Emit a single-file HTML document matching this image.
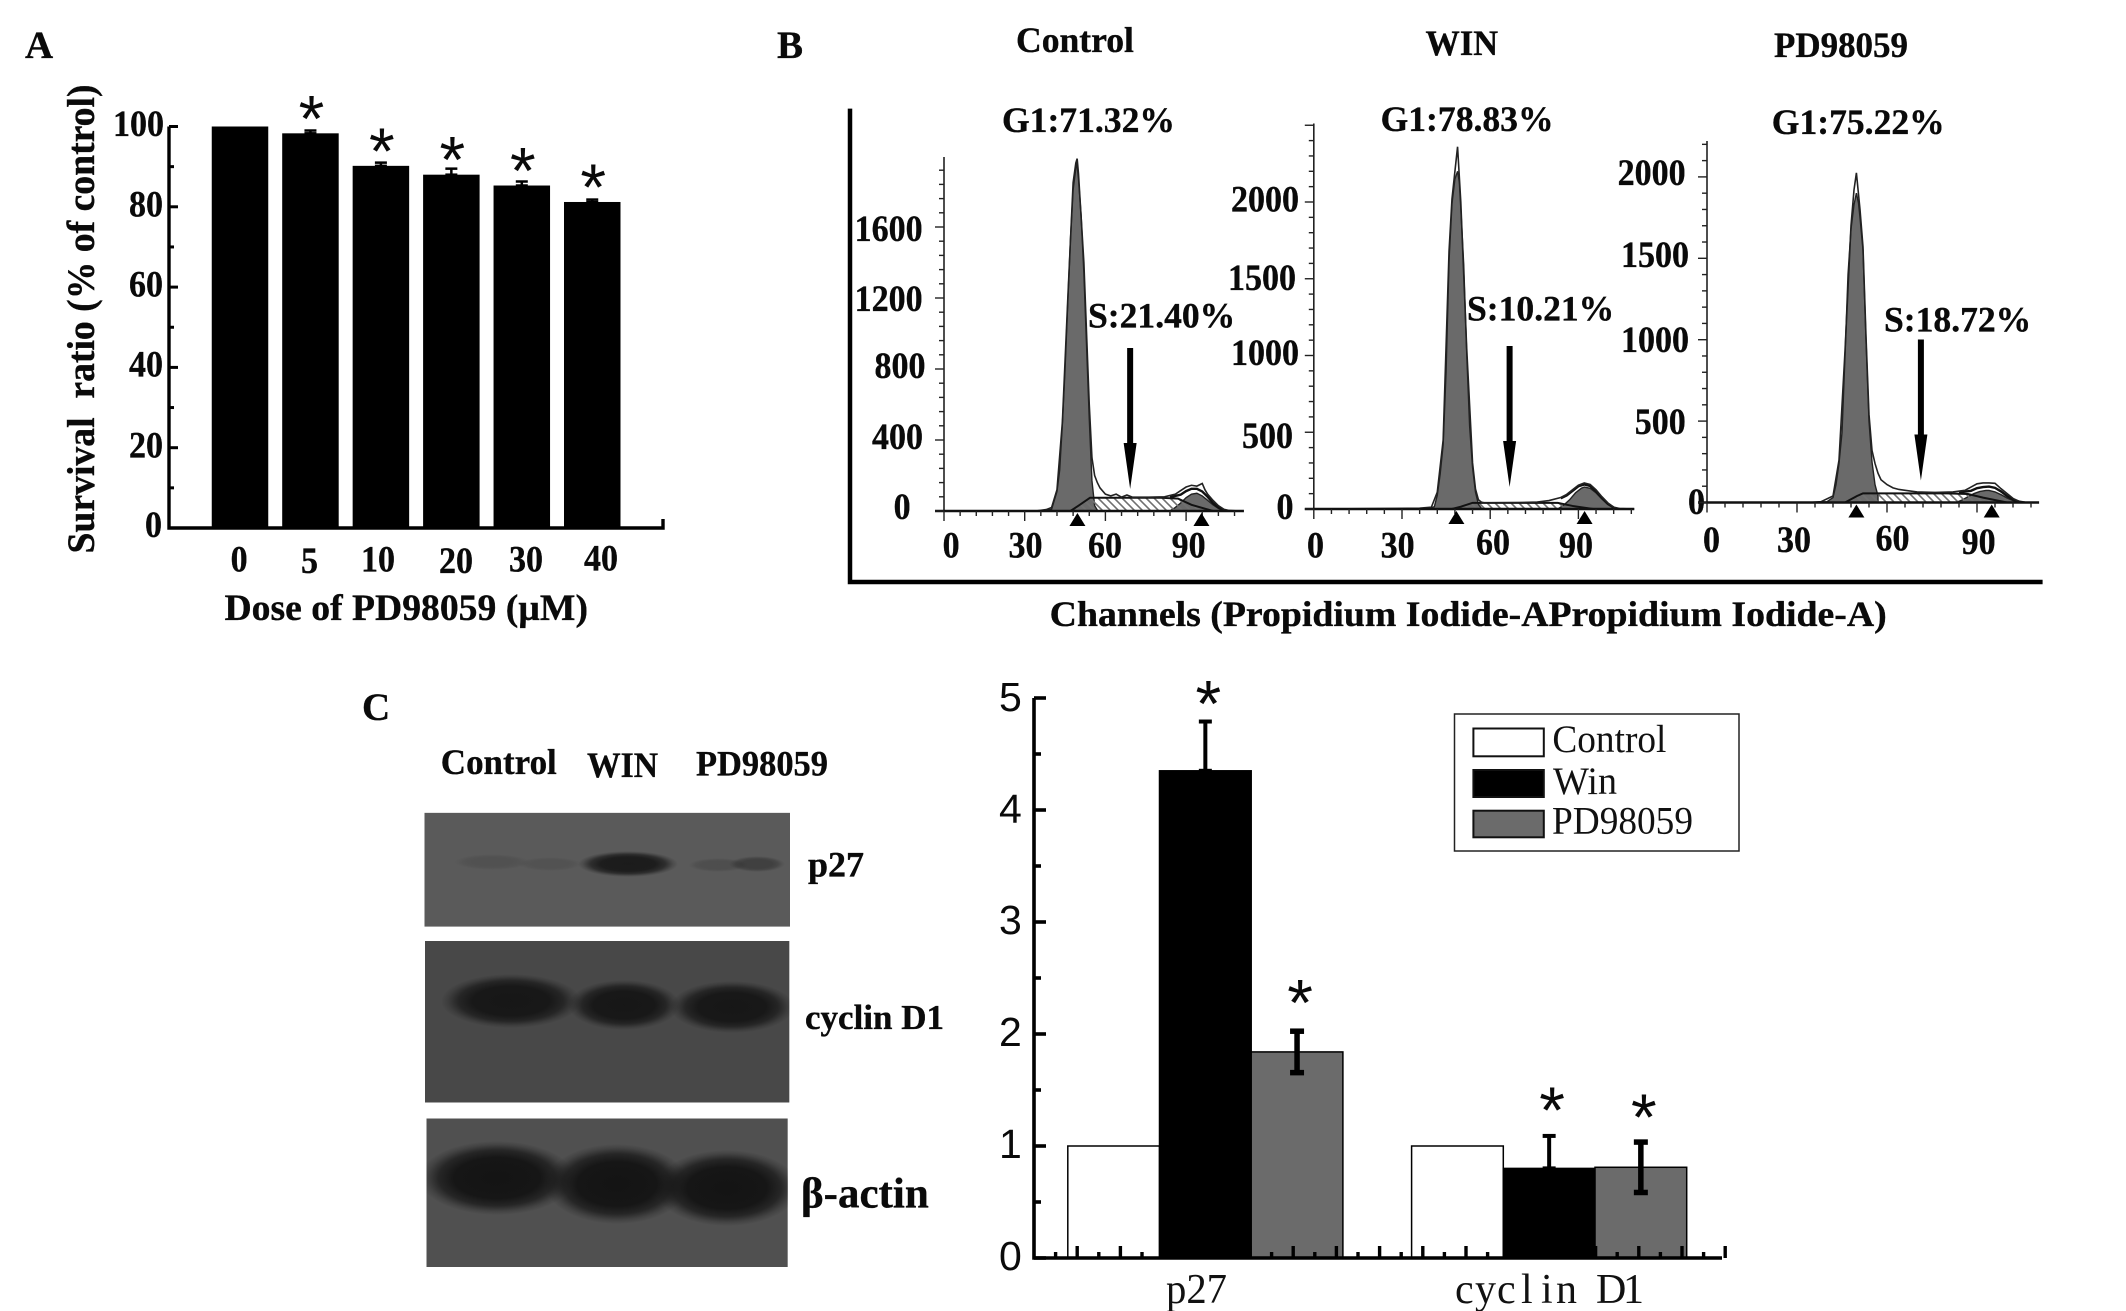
<!DOCTYPE html>
<html lang="en">
<head>
<meta charset="utf-8">
<title>PD98059 survival, cell cycle and western blot figure</title>
<style>
html,body{margin:0;padding:0;background:#fff;}
svg{display:block;font-family:"Liberation Serif",serif;}
.b{font-weight:700;fill:#0a0a0a;stroke:#0a0a0a;stroke-width:.35;}
.t34{font-size:37px;}
.t35{font-size:35.6px;}
.pl{font-size:39px;}
.sans{font-family:"Liberation Sans",sans-serif;font-size:41px;fill:#0a0a0a;}
.leg{font-size:39px;fill:#111;}
.mono{font-family:"Liberation Serif",serif;font-size:42px;fill:#111;}
</style>
</head>
<body>
<svg id="figure" xmlns="http://www.w3.org/2000/svg" width="2126" height="1311" viewBox="0 0 2126 1311">
<defs>
<pattern id="hatch" patternUnits="userSpaceOnUse" width="8" height="8">
<rect width="8" height="8" fill="none"/>
<path d="M-2,-2 L10,10 M-2,6 L2,10 M6,-2 L10,2" stroke="#707070" stroke-width="1.6"/>
</pattern>
<radialGradient id="band">
<stop offset="0" stop-color="#141414" stop-opacity="1"/>
<stop offset="0.55" stop-color="#141414" stop-opacity="0.97"/>
<stop offset="0.75" stop-color="#141414" stop-opacity="0.7"/>
<stop offset="0.9" stop-color="#141414" stop-opacity="0.22"/>
<stop offset="1" stop-color="#141414" stop-opacity="0"/>
</radialGradient>
<clipPath id="clip-p27"><rect x="424.5" y="812.7" width="365.5" height="114"/></clipPath>
<clipPath id="clip-cyc"><rect x="425" y="941" width="364.4" height="161.5"/></clipPath>
<clipPath id="clip-act"><rect x="426.5" y="1118.5" width="361.3" height="148.5"/></clipPath>
</defs>
<rect width="2126" height="1311" fill="#fff"/>

<text class="b pl" x="25" y="58">A</text>
<text class="b pl" x="777" y="58">B</text>
<text class="b pl" x="362" y="720">C</text>

<g id="panel-a">
<text class="b" font-size="39" transform="translate(94,553.5) rotate(-90)" textLength="469" lengthAdjust="spacingAndGlyphs" style="white-space:pre">Survival  ratio (% of control)</text>
<text class="b t34 tick" x="113" y="136">100</text>
<text class="b t34 tick" x="129" y="216.5">80</text>
<text class="b t34 tick" x="129" y="296.6">60</text>
<text class="b t34 tick" x="129" y="376.5">40</text>
<text class="b t34 tick" x="129" y="457.6">20</text>
<text class="b t34 tick" x="145" y="537">0</text>
<text class="b t34 tick" x="230.6" y="571.6">0</text>
<text class="b t34 tick" x="301" y="573">5</text>
<text class="b t34 tick" x="361" y="571.6">10</text>
<text class="b t34 tick" x="439" y="573">20</text>
<text class="b t34 tick" x="509" y="571.6">30</text>
<text class="b t34 tick" x="584" y="570.5">40</text>
<text class="b t34" x="224.5" y="620" textLength="363.5" lengthAdjust="spacingAndGlyphs">Dose of PD98059 (µM)</text>
</g>

<g id="panel-b">
<path d="M850,108.6 V582 H2042.6" fill="none" stroke="#000" stroke-width="4.5"/>
<text class="b t35" x="1016" y="52">Control</text>
<text class="b t35" x="1425.5" y="55" textLength="72.5" lengthAdjust="spacingAndGlyphs">WIN</text>
<text class="b t35" x="1774" y="57" textLength="134" lengthAdjust="spacingAndGlyphs">PD98059</text>
<text class="b t35" x="1002" y="132">G1:71.32%</text>
<text class="b t35" x="1380.6" y="131">G1:78.83%</text>
<text class="b t35" x="1771.8" y="134">G1:75.22%</text>
<text class="b t35" x="1088" y="327.5">S:21.40%</text>
<text class="b t35" x="1467" y="320.5">S:10.21%</text>
<text class="b t35" x="1884" y="331.7">S:18.72%</text>

<text class="b t34 tick" x="854.6" y="241">1600</text>
<text class="b t34 tick" x="854.6" y="311">1200</text>
<text class="b t34 tick" x="874.5" y="378">800</text>
<text class="b t34 tick" x="872" y="449">400</text>
<text class="b t34 tick" x="893.6" y="519">0</text>
<text class="b t34 tick" x="942.6" y="557.6">0</text>
<text class="b t34 tick" x="1008.5" y="557.6">30</text>
<text class="b t34 tick" x="1088" y="557.6">60</text>
<text class="b t34 tick" x="1171.6" y="557.6">90</text>

<text class="b t34 tick" x="1231" y="211.5">2000</text>
<text class="b t34 tick" x="1228" y="290">1500</text>
<text class="b t34 tick" x="1231" y="365">1000</text>
<text class="b t34 tick" x="1242" y="448">500</text>
<text class="b t34 tick" x="1276.5" y="519">0</text>
<text class="b t34 tick" x="1307" y="557.6">0</text>
<text class="b t34 tick" x="1380.6" y="557.6">30</text>
<text class="b t34 tick" x="1476" y="554.7">60</text>
<text class="b t34 tick" x="1559" y="557.6">90</text>

<text class="b t34 tick" x="1617.6" y="185">2000</text>
<text class="b t34 tick" x="1621" y="267">1500</text>
<text class="b t34 tick" x="1621" y="352">1000</text>
<text class="b t34 tick" x="1634.7" y="434">500</text>
<text class="b t34 tick" x="1688" y="514">0</text>
<text class="b t34 tick" x="1703" y="552">0</text>
<text class="b t34 tick" x="1777" y="552">30</text>
<text class="b t34 tick" x="1875.5" y="550.6">60</text>
<text class="b t34 tick" x="1961.6" y="554">90</text>

<text class="b t35" x="1049.7" y="626" textLength="837" lengthAdjust="spacingAndGlyphs">Channels (Propidium Iodide-APropidium Iodide-A)</text>
</g>

<g id="panel-c-blots">
<text class="b t35" x="440.8" y="774" textLength="116" lengthAdjust="spacingAndGlyphs">Control</text>
<text class="b t35" x="587" y="777" textLength="71" lengthAdjust="spacingAndGlyphs">WIN</text>
<text class="b t35" x="696" y="775.5" textLength="132" lengthAdjust="spacingAndGlyphs">PD98059</text>

<g clip-path="url(#clip-p27)">
<rect x="424.5" y="812.7" width="365.5" height="114" fill="#5a5a5a"/>
<ellipse cx="492" cy="862" rx="38" ry="8" fill="url(#band)" opacity="0.13"/>
<ellipse cx="550" cy="864" rx="32" ry="7" fill="url(#band)" opacity="0.12"/>
<ellipse cx="628" cy="864" rx="50" ry="13" fill="url(#band)" opacity="0.9"/>
<ellipse cx="718" cy="865" rx="30" ry="7" fill="url(#band)" opacity="0.18"/>
<ellipse cx="757" cy="864" rx="28" ry="8" fill="url(#band)" opacity="0.38"/>
</g>
<g clip-path="url(#clip-cyc)">
<rect x="425" y="941" width="364.4" height="161.5" fill="#484848"/>
<ellipse cx="511" cy="1001" rx="70" ry="27" fill="url(#band)" opacity="0.95"/>
<ellipse cx="624" cy="1005" rx="56" ry="25" fill="url(#band)" opacity="0.95"/>
<ellipse cx="732" cy="1007" rx="62" ry="26" fill="url(#band)" opacity="0.95"/>
</g>
<g clip-path="url(#clip-act)">
<rect x="426.5" y="1118.5" width="361.3" height="148.5" fill="#505050"/>
<ellipse cx="497" cy="1178" rx="78" ry="37" fill="url(#band)"/>
<ellipse cx="617" cy="1184" rx="72" ry="40" fill="url(#band)"/>
<ellipse cx="727" cy="1188" rx="72" ry="38" fill="url(#band)"/>
</g>
<text class="b" font-size="36" x="808" y="876.5">p27</text>
<text class="b" font-size="35" x="805" y="1029">cyclin D1</text>
<text class="b" font-size="43" x="801" y="1207.6">β-actin</text>
</g>

<g id="panel-c-chart">
<text class="sans" x="999" y="711">5</text>
<text class="sans" x="999" y="823">4</text>
<text class="sans" x="999" y="934">3</text>
<text class="sans" x="999" y="1046">2</text>
<text class="sans" x="999" y="1158">1</text>
<text class="sans" x="999" y="1270">0</text>
<text class="mono" x="1166" y="1303" textLength="61" lengthAdjust="spacingAndGlyphs">p27</text>
<text class="mono" x="1455 1475 1497 1521 1541 1556 1590 1596 1623" y="1303">cyclin D1</text>
<g>
<rect x="1454.5" y="714" width="284.5" height="137" fill="#fff" stroke="#222" stroke-width="1.5"/>
<rect x="1473.4" y="728.5" width="70.4" height="27.8" fill="#fff" stroke="#111" stroke-width="2"/>
<rect x="1473.4" y="770" width="70.4" height="27" fill="#000" stroke="#111" stroke-width="2"/>
<rect x="1473.4" y="810.7" width="70.4" height="26.6" fill="#6b6b6b" stroke="#111" stroke-width="2"/>
<text class="leg" x="1552.4" y="752" textLength="114" lengthAdjust="spacingAndGlyphs">Control</text>
<text class="leg" x="1553" y="794" textLength="64" lengthAdjust="spacingAndGlyphs">Win</text>
<text class="leg" x="1552" y="833.6" textLength="141" lengthAdjust="spacingAndGlyphs">PD98059</text>
</g>
</g>
</svg>

<script>
/* Panel A data */
const survivalValues = [100, 98.3, 90.2, 88, 85.3, 81.2];
const survivalErrors = [0, 0.7, 0.8, 1.5, 1, 0.6];
const survivalSignificant = [false, true, true, true, true, true];

/* Panel C chart data */
const expressionControl = [1, 1];
const expressionWin = [4.35, 0.80];
const expressionPd = [1.84, 0.81];
const errorWin = [0.44, 0.29];
const errorPd = [0.185, 0.225];
const starLevelWin = [5.04, 1.41];
const starLevelPd = [2.37, 1.35];

/* Panel B data: channels and counts */
const controlG1Ch = [38,40,42,43,44,45,46,47,48,49,49.4,50,51,52,53,54,55,56,57];
const controlG1 = [5,10,110,230,490,800,1170,1530,1810,1930,1960,1870,1660,1340,930,520,170,30,5];
const controlSCh = [47,50,54.3,60,70,80,87,92,100];
const controlS = [0,30,75,75,75,75,70,35,0];
const controlG2Ch = [84,86,88,90,92,94,96,98,100,102,104];
const controlG2 = [0,20,45,75,95,100,85,60,35,15,0];
const controlTotalCh = [0,34,38,40,42,44,46,48,49,49.5,50,52,54,55,56,57,58,60,62,64,66,68,70,76,82,86,88,90,92,94,96,97,98,100,102,104,106,110];
const controlTotal = [0,0,8,20,120,500,1190,1850,1960,1985,1900,1400,600,300,200,160,130,95,85,95,78,90,78,78,80,95,115,135,145,140,155,120,95,60,30,10,3,0];
const controlFitCh = [84,88,90,92,94,96,98,100,102,104];
const controlFit = [78,92,112,125,125,110,80,45,20,5];
const controlMarkers = [49.6,95.7];
const controlArrow = 69.2;

const winG1Ch = [38,40,41,42,43,44,45,46,47,48,48.9,49.5,50,51,52,53,54,55,56,57];
const winG1 = [3,8,15,90,230,420,900,1620,1990,2150,2200,2130,1960,1590,1020,540,270,110,30,5];
const winSCh = [47,50,54,60,70,80,83,88,95];
const winS = [0,15,40,40,40,40,40,20,0];
const winG2Ch = [83,85,87,89,91,92,94,96,98,100,102,103];
const winG2 = [0,25,60,105,135,143,135,105,65,30,8,0];
const winTotalCh = [0,36,40,42,44,46,47,48,48.9,50,52,54,55,56,57,58,60,70,76,80,84,86,88,90,92,94,96,98,100,102,104,109];
const winTotal = [0,5,12,110,450,1680,2020,2200,2360,2000,1050,300,130,60,45,40,40,42,45,55,75,95,125,155,170,160,125,80,40,12,3,0];
const winFitCh = [84,86,88,90,92,94,96,98,100,102];
const winFit = [70,88,118,148,160,150,115,72,34,10];
const winMarkers = [48.5,92.1];
const winArrow = 66.6;

const pdG1Ch = [38,40,42,43,44,45,46,47,48,49,49.8,50.5,51,52,53,54,55,56,57];
const pdG1 = [3,5,30,110,240,430,900,1400,1680,1830,1900,1840,1750,1550,1000,500,250,110,40];
const pdSCh = [46,50,52,60,70,80,87,92,100];
const pdS = [0,40,56,56,56,56,52,30,0];
const pdG2Ch = [83,85,87,89,91,93,94,96,98,100,102,104.5];
const pdG2 = [0,15,35,55,68,74,74,65,48,28,12,0];
const pdTotalCh = [0,34,38,42,44,46,48,49,49.8,51,52,53,54,55,56,57,58,60,62,64,70,76,82,86,88,90,92,94,96,98,100,102,104,106,110];
const pdTotal = [0,0,5,40,260,930,1700,1920,2025,1800,1570,1020,540,320,240,180,140,110,90,80,65,62,65,75,95,115,120,120,118,85,55,25,8,2,0];
const pdFitCh = [84,88,90,92,94,96,98,100,102,104];
const pdFit = [62,72,88,95,98,90,68,40,18,5];
const pdMarkers = [49.8,94.9];
const pdArrow = 71.3;

const NS = 'http://www.w3.org/2000/svg';
const figure = document.getElementById('figure');

document.querySelectorAll('.tick').forEach(t => {
  t.setAttribute('textLength', String(t.textContent.length * 17));
  t.setAttribute('lengthAdjust', 'spacingAndGlyphs');
});

function shape(parent, tag, attrs) {
  const el = document.createElementNS(NS, tag);
  for (const k in attrs) el.setAttribute(k, attrs[k]);
  parent.appendChild(el);
  return el;
}

function star(parent, cx, cy) {
  const el = shape(parent, 'text', {x: cx, y: cy + 33, 'text-anchor': 'middle', 'font-size': 66, fill: '#0a0a0a', style: 'font-family:"Liberation Sans",sans-serif'});
  el.textContent = '*';
  
  
  return el;
}

function errorBar(parent, x, yTop, yBottom, width, cap) {
  const g = shape(parent, 'g', {});
  
  
  shape(g, 'line', {x1: x, x2: x, y1: yTop, y2: yBottom, stroke: '#000', 'stroke-width': width});
  shape(g, 'line', {x1: x - cap / 2, x2: x + cap / 2, y1: yTop, y2: yTop, stroke: '#000', 'stroke-width': width});
  if (yBottom !== null) shape(g, 'line', {x1: x - cap / 2, x2: x + cap / 2, y1: yBottom, y2: yBottom, stroke: '#000', 'stroke-width': width});
}

/* Panel A */
(function () {
  const root = document.getElementById('panel-a');
  const y = v => 528 - v * 4.015;
  const xCenter = i => 240 + i * 70.45;
  const barWidth = 56.5;
  survivalValues.forEach((v, i) => {
    const bar = shape(root, 'rect', {x: xCenter(i) - barWidth / 2, y: y(v), width: barWidth, height: y(0) - y(v), fill: '#000'});
    
    
    if (survivalErrors[i] > 0) {
      errorBar(root, xCenter(i), y(v + survivalErrors[i]), y(v), 2.5, 12);
    }
    if (survivalSignificant[i]) star(root, xCenter(i) + 1, y(v) - 25);
  });
  const axis = shape(root, 'path', {d: 'M169,' + y(100) + ' V' + y(0) + ' H663 V519', fill: 'none', stroke: '#000', 'stroke-width': 3.4});
  
  
  for (let t = 0; t <= 100; t += 10) {
    const tick = shape(root, 'line', {x1: 169, x2: t % 20 === 0 ? 178 : 174, y1: y(t), y2: y(t), stroke: '#000', 'stroke-width': 3});
    
    
  }
})();

/* Panel B */
function areaPath(chs, vals, x, y) {
  let d = 'M' + x(chs[0]) + ',' + y(0);
  chs.forEach((c, i) => { d += ' L' + x(c) + ',' + y(vals[i]); });
  return d + ' L' + x(chs[chs.length - 1]) + ',' + y(0) + ' Z';
}
function linePath(chs, vals, x, y) {
  return chs.map((c, i) => (i ? 'L' : 'M') + x(c) + ',' + y(vals[i])).join(' ');
}

function histogram(p) {
  const root = document.getElementById('panel-b');
  const g = shape(root, 'g', {});
  
  
  const x = c => p.x0 + c * p.xPer;
  const y = v => p.y0 - v * p.yPer;

  const g1 = shape(g, 'path', {d: areaPath(p.g1Ch, p.g1, x, y), fill: '#6a6a6a', stroke: '#222', 'stroke-width': 1.4});
  
  
  const g2 = shape(g, 'path', {d: areaPath(p.g2Ch, p.g2, x, y), fill: '#6a6a6a', stroke: '#222', 'stroke-width': 1.4});
  
  
  const s = shape(g, 'path', {d: areaPath(p.sCh, p.s, x, y), fill: 'url(#hatch)', stroke: '#111', 'stroke-width': 2});
  
  
  const fit = shape(g, 'path', {d: linePath(p.fitCh, p.fit, x, y), fill: 'none', stroke: '#111', 'stroke-width': 2.4});
  
  
  const total = shape(g, 'path', {d: linePath(p.totalCh, p.total, x, y), fill: 'none', stroke: '#222', 'stroke-width': 1.6});
  
  

  const yAxis = shape(g, 'line', {x1: x(0), x2: x(0), y1: p.yTop, y2: y(0), stroke: '#222', 'stroke-width': 1.6});
  
  
  const xAxis = shape(g, 'line', {x1: x(0) - 9, x2: x(p.xMax), y1: y(0), y2: y(0), stroke: '#111', 'stroke-width': 2.4});
  
  

  for (let n = 0, t = 0; y(t) >= p.yTop; n++, t = n * p.yMinor) {
    const major = n % 5 === 0;
    const tick = shape(g, 'line', {x1: x(0) - (major ? 9 : 5), x2: x(0), y1: y(t), y2: y(t), stroke: '#222', 'stroke-width': 1.4});
    
    
  }
  for (let c = 0; c <= p.xMax; c += 6) {
    const major = c % 30 === 0;
    const tick = shape(g, 'line', {x1: x(c), x2: x(c), y1: y(0), y2: y(0) + (major ? 10 : 5), stroke: '#222', 'stroke-width': 1.4});
    
    
  }
  p.markers.forEach(c => {
    const cx = x(c);
    const top = y(0) + 2;
    const tri = shape(g, 'polygon', {points: cx + ',' + top + ' ' + (cx + 8) + ',' + (top + 13) + ' ' + (cx - 8) + ',' + (top + 13), fill: '#000'});
    
    
  });
  const ax = x(p.arrow);
  const arrow = shape(g, 'polygon', {points: [
    [ax - 3, y(0) - 163], [ax + 3, y(0) - 163], [ax + 3, y(0) - 68], [ax + 6.5, y(0) - 68],
    [ax, y(0) - 22], [ax - 6.5, y(0) - 68], [ax - 3, y(0) - 68]
  ].map(q => q.join(',')).join(' '), fill: '#000'});
  
  
}

histogram({name: 'histogram-control', x0: 944, xPer: 2.69, y0: 511, yPer: 0.1775, yTop: 157, xMax: 111.5, yMinor: 80,
  g1Ch: controlG1Ch, g1: controlG1, sCh: controlSCh, s: controlS, g2Ch: controlG2Ch, g2: controlG2,
  totalCh: controlTotalCh, total: controlTotal, fitCh: controlFitCh, fit: controlFit, markers: controlMarkers, arrow: controlArrow});
histogram({name: 'histogram-win', x0: 1313.8, xPer: 2.94, y0: 509, yPer: 0.1535, yTop: 123.5, xMax: 109, yMinor: 100,
  g1Ch: winG1Ch, g1: winG1, sCh: winSCh, s: winS, g2Ch: winG2Ch, g2: winG2,
  totalCh: winTotalCh, total: winTotal, fitCh: winFitCh, fit: winFit, markers: winMarkers, arrow: winArrow});
histogram({name: 'histogram-pd98059', x0: 1707, xPer: 3.0, y0: 502.5, yPer: 0.1628, yTop: 141, xMax: 110.7, yMinor: 100,
  g1Ch: pdG1Ch, g1: pdG1, sCh: pdSCh, s: pdS, g2Ch: pdG2Ch, g2: pdG2,
  totalCh: pdTotalCh, total: pdTotal, fitCh: pdFitCh, fit: pdFit, markers: pdMarkers, arrow: pdArrow});

/* Panel C chart */
(function () {
  const root = document.getElementById('panel-c-chart');
  const y = v => 1258 - v * 112;
  const xBar = (group, series) => 1067.8 + group * 343.8 + series * 91.7;
  const barW = 91.7;
  const series = [
    {values: expressionControl, fill: '#fff', name: 'bar-control'},
    {values: expressionWin, fill: '#000', name: 'bar-win'},
    {values: expressionPd, fill: '#6b6b6b', name: 'bar-pd98059'}
  ];
  series.forEach((s, si) => {
    s.values.forEach((v, gi) => {
      const bar = shape(root, 'rect', {x: xBar(gi, si), y: y(v), width: barW, height: y(0) - y(v), fill: s.fill, stroke: '#000', 'stroke-width': 1.5});
      
      
    });
  });
  errorWin.forEach((e, gi) => {
    const cx = xBar(gi, 1) + barW / 2;
    errorBar(root, cx, y(expressionWin[gi] + e), y(expressionWin[gi]), 4, 13);
    star(root, cx + 3, y(starLevelWin[gi]));
  });
  errorPd.forEach((e, gi) => {
    const cx = xBar(gi, 2) + barW / 2;
    errorBar(root, cx, y(expressionPd[gi] + e), y(expressionPd[gi] - e), 5.5, 14);
    star(root, cx + 3, y(starLevelPd[gi]));
  });
  const axis = shape(root, 'path', {d: 'M1034,' + y(5) + ' V' + y(0) + ' H1722', fill: 'none', stroke: '#000', 'stroke-width': 3.6});
  
  
  for (let n = 0; n <= 10; n++) {
    const t = n * 0.5;
    const tick = shape(root, 'line', {x1: 1034, x2: n % 2 === 0 ? 1046 : 1041, y1: y(t), y2: y(t), stroke: '#000', 'stroke-width': 3.6});
    
    
  }
  for (let n = 1; n <= 32; n++) {
    const px = 1034 + n * 21.6;
    const tick = shape(root, 'line', {x1: px, x2: px, y1: y(0), y2: y(0) - (n % 2 === 0 ? 12 : 6), stroke: '#000', 'stroke-width': 3.4});
    
    
  }
})();
</script>
</body>
</html>
